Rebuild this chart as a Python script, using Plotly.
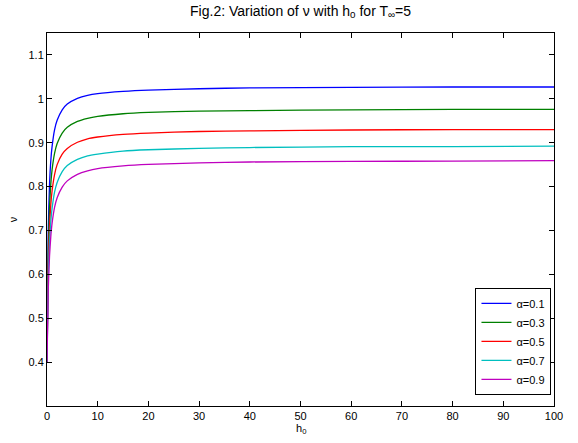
import plotly.graph_objects as go

h0 = [0, 0.25, 0.5, 0.75, 1, 1.5, 2, 3, 4, 6, 8, 10, 15, 20, 30, 40, 60, 80, 100]

nu_a01 = [0.400, 0.702, 0.805, 0.859, 0.891, 0.930, 0.951, 0.975, 0.988, 1.001, 1.008, 1.012, 1.017, 1.020, 1.023, 1.025, 1.026, 1.027, 1.027]
nu_a03 = [0.400, 0.658, 0.754, 0.806, 0.838, 0.876, 0.898, 0.922, 0.935, 0.9485, 0.9556, 0.960, 0.966, 0.969, 0.972, 0.973, 0.975, 0.976, 0.976]
nu_a05 = [0.400, 0.621, 0.709, 0.759, 0.790, 0.828, 0.850, 0.874, 0.887, 0.901, 0.909, 0.913, 0.919, 0.922, 0.9255, 0.927, 0.929, 0.930, 0.930]
nu_a07 = [0.400, 0.591, 0.673, 0.720, 0.750, 0.788, 0.8095, 0.834, 0.848, 0.862, 0.870, 0.874, 0.881, 0.884, 0.887, 0.889, 0.891, 0.891, 0.892]
nu_a09 = [0.400, 0.566, 0.642, 0.686, 0.716, 0.753, 0.7745, 0.799, 0.813, 0.828, 0.836, 0.841, 0.847, 0.8505, 0.854, 0.856, 0.8575, 0.858, 0.859]

series_names = ["α=0.1", "α=0.3", "α=0.5", "α=0.7", "α=0.9"]
series_vals = [nu_a01, nu_a03, nu_a05, nu_a07, nu_a09]
colors = ["#0000ff", "#008000", "#ff0000", "#00bfbf", "#bf00bf"]

x_ticks = [0, 10, 20, 30, 40, 50, 60, 70, 80, 90, 100]
y_ticks = [0.4, 0.5, 0.6, 0.7, 0.8, 0.9, 1.0, 1.1]
y_ticktext = ["0.4", "0.5", "0.6", "0.7", "0.8", "0.9", "1", "1.1"]

FONT = "Liberation Sans, Arial, sans-serif"

fig = go.Figure()
for name, vals, c in zip(series_names, series_vals, colors):
    fig.add_trace(go.Scatter(x=h0, y=vals, mode="lines", name=name,
                             line=dict(color=c, width=1.3, shape="spline", smoothing=0.6)))

axis_common = dict(showline=True, linecolor="black", linewidth=1, mirror="ticks",
                   ticks="inside", ticklen=5, tickcolor="black", showgrid=False,
                   zeroline=False, automargin=False,
                   tickfont=dict(family=FONT, size=11, color="black"))

fig.update_layout(
    width=578, height=443,
    margin=dict(l=47, r=24, t=33, b=37),
    paper_bgcolor="white", plot_bgcolor="white",
    font=dict(family=FONT, size=11, color="black"),
    title=dict(text="Fig.2: Variation of ν with h<sub>0</sub> for T<sub>∞</sub>=5",
               x=0.5, xref="paper", xanchor="center", y=0.987, yanchor="top",
               font=dict(family=FONT, size=14, color="black")),
    xaxis=dict(range=[0, 100], tickvals=x_ticks, **axis_common),
    yaxis=dict(range=[0.3, 1.15], tickvals=y_ticks, ticktext=y_ticktext,
               title=dict(text="ν", standoff=8, font=dict(family=FONT, size=11)),
               **axis_common),
    legend=dict(x=0.995, y=0.03, xanchor="right", yanchor="bottom",
                bgcolor="white", bordercolor="black", borderwidth=1,
                font=dict(family=FONT, size=11, color="black"),
                itemwidth=30, tracegroupgap=0),
    showlegend=True,
    annotations=[dict(text="h<sub>0</sub>", xref="paper", yref="paper", x=0.5, y=-0.038,
                      xanchor="center", yanchor="top", showarrow=False,
                      font=dict(family=FONT, size=11, color="black"))],
)

fig.write_html("out.html", config={"displayModeBar": False},
               post_script="document.body.style.margin='0';")
